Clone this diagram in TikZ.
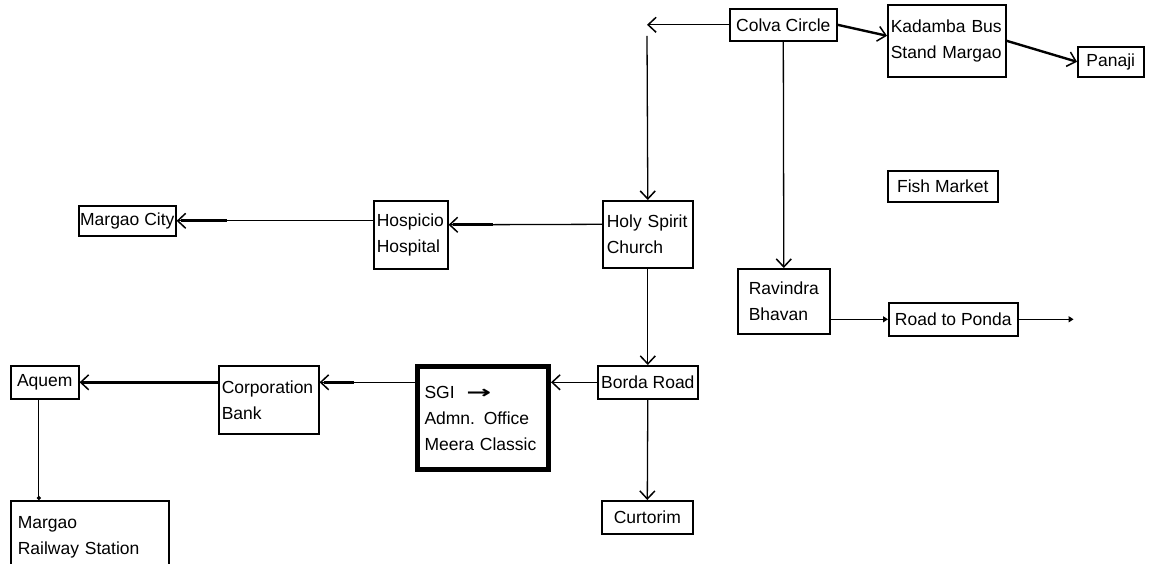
\documentclass[tikz,border=0pt]{standalone}
\usepackage{fontspec}
\setmainfont{Liberation Sans}
\newfontfamily\dejavu{DejaVu Sans}
\usetikzlibrary{arrows.meta}
\begin{document}
\begin{tikzpicture}[x=1pt,y=-1pt,
  box/.style={draw, line width=1.6pt, anchor=north west, align=left,
    inner xsep=4pt, inner ysep=0pt, font=\fontsize{17.5}{26}\selectfont},
  onebox/.style={box, align=center, inner xsep=0pt},
  conn/.style={line width=1.3pt, -{Straight Barb[length=8pt,width=15pt,line width=1.5pt]}},
  thickconn/.style={conn, line width=2.4pt},
  shaft/.style={line width=2.8pt},
  smallconn/.style={line width=1.3pt, -{Triangle[length=5pt,width=6pt]}},
  dotconn/.style={line width=1.3pt, -{Circle[length=4pt]}}
]
\fill[white] (0,0) rectangle (1154,564);
\useasboundingbox (0,0) rectangle (1154,564);

% nodes
\node[onebox, minimum width=107pt, minimum height=32pt] (colva) at (729,8) {Colva Circle};
\node[box, minimum width=118pt, minimum height=72pt, text width=112pt, inner xsep=3pt] (kad) at (887,4) {Kadamba Bus\\Stand Margao};
\node[onebox, minimum width=66pt, minimum height=30pt] (panaji) at (1077,46) {Panaji};
\node[onebox, minimum width=110pt, minimum height=31pt] (fish) at (887,170) {Fish Market};
\node[box, minimum width=92pt, minimum height=65pt, text width=70pt, inner xsep=11pt] (rav) at (737,268) {Ravindra\\Bhavan};
\node[onebox, minimum width=129pt, minimum height=33pt] (ponda) at (888,302) {Road to Ponda};
\node[box, minimum width=90pt, minimum height=67pt, text width=82pt] (hs) at (602,200) {Holy Spirit\\Church};
\node[box, minimum width=74pt, minimum height=68pt, text width=68pt, inner xsep=3pt] (hosp) at (373,200) {Hospicio\\Hospital};
\node[onebox, minimum width=97pt, minimum height=30pt] (mc) at (78,205) {Margao City};
\node[onebox, minimum width=100pt, minimum height=33pt] (borda) at (597,365) {Borda Road};
\node[box, line width=5pt, minimum width=131pt, minimum height=103pt, text width=117pt, inner xsep=7pt] (sgi) at (415,364) {SGI\ \ \scalebox{1.7}[1]{\dejavu\bfseries →}\\Admn. Office\\Meera Classic};
\node[box, minimum width=100pt, minimum height=68pt, text width=94pt, inner xsep=3pt] (corp) at (218,365) {Corporation\\Bank};
\node[onebox, minimum width=68pt, minimum height=33pt] (aquem) at (10,365) {Aquem};
\node[box, minimum width=158pt, minimum height=72pt, text width=144pt, inner xsep=7pt] (rail) at (10,500) {Margao\\Railway Station};
\node[onebox, minimum width=91pt, minimum height=33pt] (curt) at (601,500) {Curtorim};

% free ends
\coordinate (c1) at (647,24);
\coordinate (c2) at (647,36);
\coordinate (pend) at ([xshift=55pt]ponda.east);

% connectors
\draw[conn] (colva.west) -- (c1 |- colva.west);
\draw[conn] (c2) -- (hs.north);
\draw[conn] (colva.south) -- (rav.north);
\draw[thickconn] (colva.east) -- ([yshift=5pt]kad.west);
\draw[thickconn] (kad.east) -- (panaji.west);

\draw[conn] ([yshift=10pt]hs.west) -- ([yshift=10pt]hosp.east);
\draw[shaft] ([yshift=10pt,xshift=4pt]hosp.east) -- ++(40,0);
\draw[conn] (hosp.west |- mc.east) -- (mc.east);
\draw[shaft] ([xshift=4pt]mc.east) -- ++(46,0);

\draw[conn] (hs.south) -- (borda.north);
\draw[conn] (borda.west) -- (borda.west -| sgi.east);
\draw[conn] (sgi.west |- borda.west) -- (corp.east |- borda.west);
\draw[shaft] ([xshift=4pt]corp.east |- borda.west) -- ++(30,0);
\draw[thickconn] (corp.west |- borda.west) -- (aquem.east |- borda.west);
\draw[dotconn] ([xshift=-6pt]aquem.south) -- ([xshift=-6pt]aquem.south |- rail.north);
\draw[conn] (borda.south) -- (curt.north);

\draw[smallconn] (rav.east |- ponda.west) -- (ponda.west);
\draw[smallconn] (ponda.east) -- (pend);
\end{tikzpicture}
\end{document}
